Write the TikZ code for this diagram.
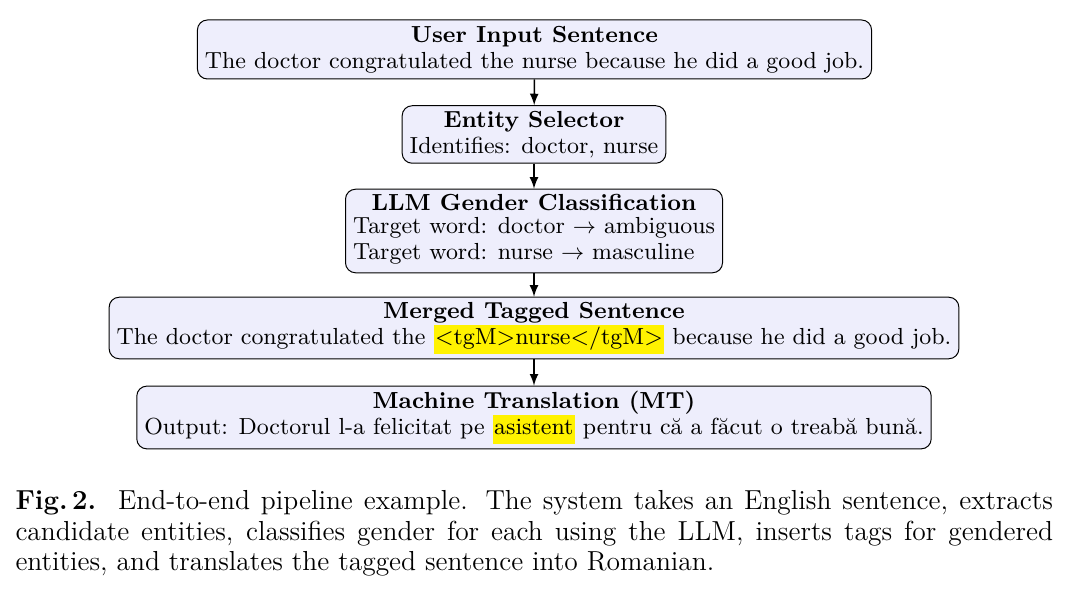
\documentclass[tikz,border=0pt]{standalone}
\usepackage{tikz}
\usepackage{amsmath}
\definecolor{boxfill}{RGB}{238,238,252}
\newcommand{\hl}[1]{{\setlength{\fboxsep}{0.6pt}\colorbox{yellow}{\strut #1}}}
\tikzset{
	stage/.style={draw,rounded corners=4pt,fill=boxfill,align=center,font=\fontsize{9.3}{10.4}\selectfont,inner xsep=3pt,inner ysep=2pt},
	flow/.style={semithick,-latex}
}
\begin{document}
\begin{tikzpicture}
		\useasboundingbox (0,0) rectangle (427.2pt,-239.6pt);
		\node[stage,minimum height=23.6pt] (input) at (213.8pt,-19.8pt) {\textbf{User Input Sentence}\\The doctor congratulated the nurse because he did a good job.};
		\node[stage,minimum height=23pt] (select) at (213.6pt,-53.8pt) {\textbf{Entity Selector}\\Identifies: doctor, nurse};
		\node[stage,minimum height=32pt] (classify) at (213.6pt,-92.4pt) {\textbf{LLM Gender Classification}\\[1pt]\begin{tabular}{@{}l@{}}Target word: doctor $\rightarrow$ ambiguous\\Target word: nurse $\rightarrow$ masculine\end{tabular}};
		\node[stage,minimum height=24pt] (merge) at (213.6pt,-131.2pt) {\textbf{Merged Tagged Sentence}\\The doctor congratulated the \hl{<tgM>nurse</tgM>} because he did a good job.};
		\node[stage,minimum height=24.4pt] (mt) at (213.6pt,-167pt) {\textbf{Machine Translation (MT)}\\Output: Doctorul l-a felicitat pe \hl{asistent} pentru că a făcut o treabă bună.};
		\draw[flow] (input)--(select);
		\draw[flow] (select)--(classify);
		\draw[flow] (classify)--(merge);
		\draw[flow] (merge)--(mt);
		\node[anchor=north west,text width=415pt,align=justify,inner sep=0pt,font=\fontsize{11}{12.2}\selectfont] (caption) at (6pt,-196pt) {\textbf{Fig.\,2.}\ \ End-to-end pipeline example. The system takes an English sentence, extracts candidate entities, classifies gender for each using the LLM, inserts tags for gendered entities, and translates the tagged sentence into Romanian.};
	\end{tikzpicture}
\end{document}
